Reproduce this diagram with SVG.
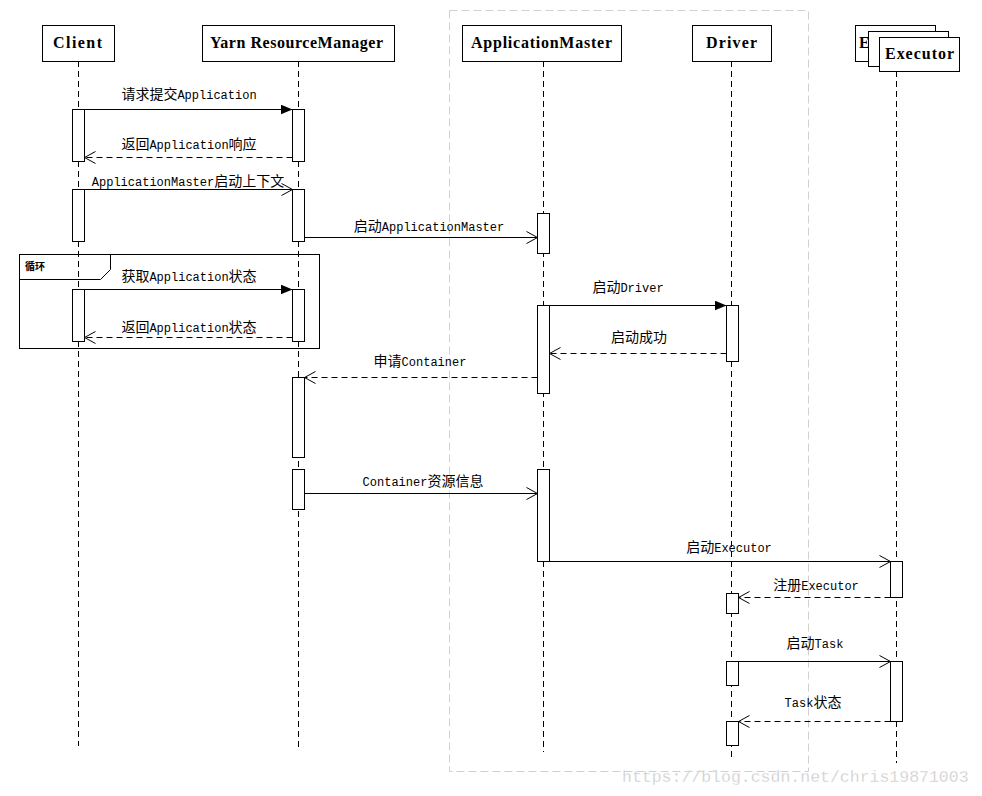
<svg xmlns="http://www.w3.org/2000/svg" width="982" height="796" viewBox="0 0 982 796">
<style>
.bg{fill:#fff}
.bound{fill:none;stroke:#d0d0d0;stroke-width:1;stroke-dasharray:8,4}
.head{fill:#fff;stroke:#000;stroke-width:1}
.ht{font-family:"Liberation Serif","Noto Sans CJK SC",serif;font-size:16px;font-weight:bold;fill:#000}
.life{stroke:#000;stroke-width:1;stroke-dasharray:6,4;fill:none}
.bar{fill:#fff;stroke:#000;stroke-width:1}
.msg{stroke:#000;stroke-width:1;fill:none}
.ret{stroke:#000;stroke-width:1;fill:none;stroke-dasharray:6,4}
.lb{font-family:"Liberation Mono","Noto Sans CJK SC",monospace;font-size:12px;text-anchor:middle;fill:#000}
.cj{font-family:"Noto Sans CJK SC",sans-serif;font-size:14px}
.frame{fill:none;stroke:#000;stroke-width:1}
.ft{font-family:"Noto Sans CJK SC",sans-serif;font-size:10px;font-weight:bold;fill:#000}
.wm{font-family:"Liberation Mono",monospace;font-size:16.5px;fill:#cacaca;stroke:#fff;stroke-width:0.3}
</style>
<defs>
<marker id="fill" markerWidth="13" markerHeight="11" refX="12" refY="5" orient="auto" markerUnits="userSpaceOnUse"><path d="M0,0 L12,5 L0,10 z" fill="#000"/></marker>
<marker id="open" markerWidth="14" markerHeight="14" refX="12" refY="7" orient="auto" markerUnits="userSpaceOnUse"><path d="M1,1 L12,7 L1,13" fill="none" stroke="#000" stroke-width="1"/></marker>
</defs>
<rect class="bg" x="0" y="0" width="982" height="796"/>
<rect id="boundary" class="bound" x="449.5" y="10.5" width="359" height="761"/>

<g id="frame-loop">
<rect class="frame" x="19.5" y="254.5" width="300" height="94"/>
<path class="frame" d="M19.5,279.5 L100.5,279.5 L110.5,269.5 L110.5,254.5"/>
<text class="ft" x="25" y="270">循环</text>
</g>

<g id="client">
<line class="life" x1="78.5" y1="61" x2="78.5" y2="746"/>
<rect class="head" x="42.5" y="25.5" width="72" height="36"/>
<text class="ht" x="53" y="48" textLength="49" lengthAdjust="spacing">Client</text>
<rect class="bar" x="72.5" y="109.5" width="12" height="52"/>
<rect class="bar" x="72.5" y="189.5" width="12" height="52"/>
<rect class="bar" x="72.5" y="289.5" width="12" height="52"/>
</g>

<g id="rm">
<line class="life" x1="298.5" y1="61" x2="298.5" y2="750"/>
<rect class="head" x="202.5" y="25.5" width="192" height="36"/>
<text class="ht" x="210" y="48" textLength="173" lengthAdjust="spacing">Yarn ResourceManager</text>
<rect class="bar" x="292.5" y="109.5" width="12" height="52"/>
<rect class="bar" x="292.5" y="189.5" width="12" height="52"/>
<rect class="bar" x="292.5" y="289.5" width="12" height="52"/>
<rect class="bar" x="292.5" y="377.5" width="12" height="80"/>
<rect class="bar" x="292.5" y="469.5" width="12" height="40"/>
</g>

<g id="am">
<line class="life" x1="543.5" y1="61" x2="543.5" y2="752"/>
<rect class="head" x="462.5" y="25.5" width="159" height="36"/>
<text class="ht" x="471" y="48" textLength="141" lengthAdjust="spacing">ApplicationMaster</text>
<rect class="bar" x="537.5" y="213.5" width="12" height="40"/>
<rect class="bar" x="537.5" y="305.5" width="12" height="88"/>
<rect class="bar" x="537.5" y="469.5" width="12" height="92"/>
</g>

<g id="driver">
<line class="life" x1="731.5" y1="61" x2="731.5" y2="760"/>
<rect class="head" x="692.5" y="25.5" width="79" height="36"/>
<text class="ht" x="706" y="48" textLength="51" lengthAdjust="spacing">Driver</text>
<rect class="bar" x="726.5" y="305.5" width="12" height="56"/>
<rect class="bar" x="726.5" y="593.5" width="12" height="20"/>
<rect class="bar" x="726.5" y="661.5" width="12" height="24"/>
<rect class="bar" x="726.5" y="721.5" width="12" height="24"/>
</g>

<g id="executor">
<line class="life" x1="896.5" y1="71" x2="896.5" y2="763"/>
<rect class="head" x="855.5" y="25.5" width="80" height="36"/>
<text class="ht" x="859" y="48">E</text>
<rect class="head" x="868.5" y="31.5" width="80" height="35"/>
<rect class="head" x="879.5" y="37.5" width="80" height="34"/>
<text class="ht" x="885" y="59" textLength="69" lengthAdjust="spacing">Executor</text>
<rect class="bar" x="890.5" y="561.5" width="12" height="36"/>
<rect class="bar" x="890.5" y="661.5" width="12" height="60"/>
</g>

<g id="connectors">
<line class="msg" x1="84.5" y1="109.5" x2="292.5" y2="109.5" marker-end="url(#fill)"/>
<text class="lb" x="189" y="99"><tspan class="cj">请求提交</tspan>Application</text>

<line class="ret" x1="292.5" y1="157.5" x2="84.5" y2="157.5" marker-end="url(#open)"/>
<text class="lb" x="189" y="149"><tspan class="cj">返回</tspan>Application<tspan class="cj">响应</tspan></text>

<line class="msg" x1="84.5" y1="189.5" x2="292.5" y2="189.5" marker-end="url(#open)"/>
<text class="lb" x="188" y="186">ApplicationMaster<tspan class="cj">启动上下文</tspan></text>

<line class="msg" x1="304.5" y1="237.5" x2="537.5" y2="237.5" marker-end="url(#open)"/>
<text class="lb" x="429" y="231"><tspan class="cj">启动</tspan>ApplicationMaster</text>

<line class="msg" x1="84.5" y1="289.5" x2="292.5" y2="289.5" marker-end="url(#fill)"/>
<text class="lb" x="189" y="281"><tspan class="cj">获取</tspan>Application<tspan class="cj">状态</tspan></text>

<line class="ret" x1="292.5" y1="337.5" x2="84.5" y2="337.5" marker-end="url(#open)"/>
<text class="lb" x="189" y="332"><tspan class="cj">返回</tspan>Application<tspan class="cj">状态</tspan></text>

<line class="msg" x1="549.5" y1="305.5" x2="726.5" y2="305.5" marker-end="url(#fill)"/>
<text class="lb" x="628" y="292"><tspan class="cj">启动</tspan>Driver</text>

<line class="ret" x1="726.5" y1="353.5" x2="549.5" y2="353.5" marker-end="url(#open)"/>
<text class="lb" x="639" y="342"><tspan class="cj">启动成功</tspan></text>

<line class="ret" x1="537.5" y1="377.5" x2="304.5" y2="377.5" marker-end="url(#open)"/>
<text class="lb" x="420" y="366"><tspan class="cj">申请</tspan>Container</text>

<line class="msg" x1="304.5" y1="493.5" x2="537.5" y2="493.5" marker-end="url(#open)"/>
<text class="lb" x="423" y="486">Container<tspan class="cj">资源信息</tspan></text>

<line class="msg" x1="549.5" y1="561.5" x2="890.5" y2="561.5" marker-end="url(#open)"/>
<text class="lb" x="729" y="552"><tspan class="cj">启动</tspan>Executor</text>

<line class="ret" x1="890.5" y1="597.5" x2="738.5" y2="597.5" marker-end="url(#open)"/>
<text class="lb" x="816" y="590"><tspan class="cj">注册</tspan>Executor</text>

<line class="msg" x1="738.5" y1="661.5" x2="890.5" y2="661.5" marker-end="url(#open)"/>
<text class="lb" x="815" y="648"><tspan class="cj">启动</tspan>Task</text>

<line class="ret" x1="890.5" y1="721.5" x2="738.5" y2="721.5" marker-end="url(#open)"/>
<text class="lb" x="813" y="707">Task<tspan class="cj">状态</tspan></text>
</g>

<text class="wm" x="622" y="782">https://blog.csdn.net/chris19871003</text>
</svg>
